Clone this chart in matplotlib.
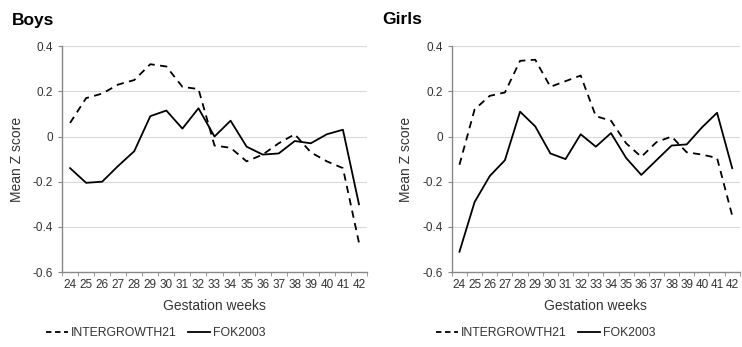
import numpy as np
import matplotlib
matplotlib.use("Agg")
import matplotlib.pyplot as plt
from matplotlib.lines import Line2D

plt.rcParams['font.family'] = ['Liberation Sans Narrow', 'Liberation Sans', 'DejaVu Sans']

weeks = list(range(24, 43))

boys_intergrowth = [0.06, 0.17, 0.19, 0.23, 0.25, 0.32, 0.31, 0.22, 0.21, -0.04,
                    -0.05, -0.11, -0.08, -0.03, 0.01, -0.07, -0.11, -0.14, -0.47]
boys_fok = [-0.14, -0.205, -0.20, -0.13, -0.065, 0.09, 0.115, 0.035, 0.125, 0.0,
            0.07, -0.045, -0.08, -0.075, -0.02, -0.03, 0.01, 0.03, -0.30]

girls_intergrowth = [-0.125, 0.12, 0.18, 0.195, 0.335, 0.34, 0.22, 0.245, 0.27, 0.09,
                     0.07, -0.03, -0.09, -0.025, 0.0, -0.07, -0.08, -0.095, -0.35]
girls_fok = [-0.51, -0.29, -0.175, -0.105, 0.11, 0.045, -0.075, -0.10, 0.01, -0.045,
             0.015, -0.095, -0.17, -0.105, -0.04, -0.035, 0.04, 0.105, -0.14]

yticks = [0.4, 0.2, 0, -0.2, -0.4, -0.6]
ytick_labels = ['0.4', '0.2', '0', '-0.2', '-0.4', '-0.6']

fig = plt.figure(figsize=(7.42, 3.47), dpi=100)
ax_boys = fig.add_axes([0.0836, 0.216, 0.411, 0.651])
ax_girls = fig.add_axes([0.609, 0.216, 0.388, 0.651])

# title x, legend x (pixels)
panels = [(ax_boys, 'Boys', boys_intergrowth, boys_fok, 12, 46),
          (ax_girls, 'Girls', girls_intergrowth, girls_fok, 382, 436)]

for ax, title, ig, fok, title_x, leg_x in panels:
    ax.plot(weeks, ig, color='black', lw=1.3, linestyle=(0, (4, 3)))
    ax.plot(weeks, fok, color='black', lw=1.3)
    ax.set_xlim(23.5, 42.5)
    ax.set_ylim(-0.6, 0.4)
    ax.set_yticks(yticks)
    ax.set_yticklabels(ytick_labels)
    ax.set_xticks(weeks)
    ax.set_xticks(np.arange(23.5, 43, 1), minor=True)
    ax.tick_params(axis='x', which='major', length=0, labelsize=8.5, colors='#333333', pad=5)
    ax.tick_params(axis='x', which='minor', length=3, color='#888888')
    ax.tick_params(axis='y', length=3, color='#888888', labelsize=8.5, labelcolor='#333333')
    for y in yticks[:-1]:
        ax.axhline(y, color='#d9d9d9', lw=0.8, zorder=0)
    for s in ['top', 'right']:
        ax.spines[s].set_visible(False)
    for s in ['left', 'bottom']:
        ax.spines[s].set_color('#888888')
        ax.spines[s].set_linewidth(1.0)
    ax.set_ylabel('Mean Z score', fontsize=10, color='#333333')
    ax.set_xlabel('Gestation weeks', fontsize=10, color='#333333', labelpad=6)
    fig.text(title_x / 742, 1 - 20 / 347, title, fontsize=12.5, fontweight='bold',
             va='center', ha='left', family=['Liberation Sans', 'DejaVu Sans'])

    handles = [Line2D([], [], color='black', lw=1.3, linestyle=(0, (3, 2))),
               Line2D([], [], color='black', lw=1.3)]
    fig.legend(handles, ['INTERGROWTH21', 'FOK2003'], loc='center left',
               bbox_to_anchor=(leg_x / 742, 1 - 333 / 347), ncol=2, frameon=False,
               fontsize=8.8, handlelength=1.8, handletextpad=0.2, columnspacing=1.0,
               borderpad=0, borderaxespad=0, labelcolor='#333333')

ax_boys.yaxis.set_label_coords(-0.125, 0.5)
ax_girls.yaxis.set_label_coords(-0.135, 0.5)

fig.savefig('out.png', dpi=100)
